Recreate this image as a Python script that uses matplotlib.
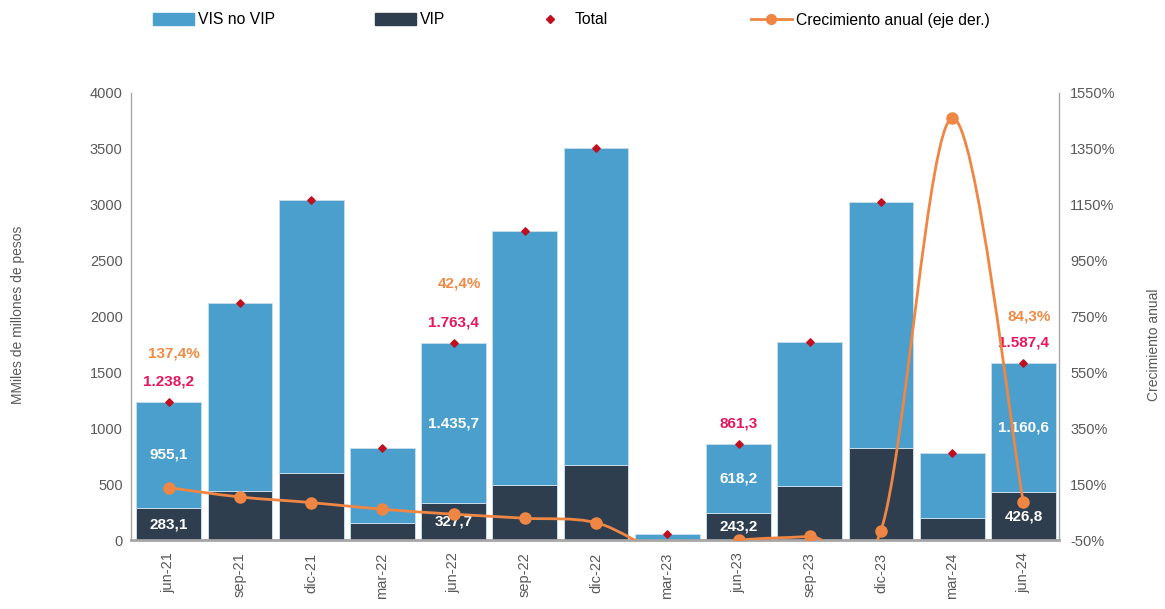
import matplotlib
matplotlib.use('Agg')
import matplotlib.pyplot as plt
import numpy
from matplotlib.lines import Line2D
from matplotlib.patches import Patch, PathPatch
from matplotlib.path import Path

matplotlib.rcParams.update({
    'font.family': ['Liberation Sans', 'DejaVu Sans'],
    'font.size': 10.5,
    'axes.linewidth': 1.0,
})

periods = ['jun-21', 'sep-21', 'dic-21', 'mar-22', 'jun-22', 'sep-22', 'dic-22',
           'mar-23', 'jun-23', 'sep-23', 'dic-23', 'mar-24', 'jun-24']
vip = [283.1, 438, 600, 152, 327.7, 492, 671, 0, 243.2, 483, 823, 197, 426.8]
vis_no_vip = [955.1, 1683, 2443, 671, 1435.7, 2273, 2837, 50, 618.2, 1289, 2202, 581, 1160.6]
total = [1238.2, 2121, 3043, 823, 1763.4, 2765, 3508, 50, 861.3, 1772, 3025, 778, 1587.4]
growth = [137.4, 104, 84, 60, 42.4, 28, 12, -94, -51.2, -37, -16, 1460, 84.3]

# only the june points carry data labels
labelled = [0, 4, 8, 12]

C_VIS = '#4b9fcc'
C_VIP = '#2e3e4f'
C_TOTAL = '#c00f1f'
C_LINE = '#ef8643'
C_TOTAL_TXT = '#e6175c'
C_GROWTH_TXT = '#f08a45'
C_AXIS = '#a6a6a6'
C_TICK = '#595959'


def fmt_es(v, pct=False):
    s = f'{v:,.1f}'.replace(',', 'X').replace('.', ',').replace('X', '.')
    return s + '%' if pct else s


def smooth_path(x, y):
    """Excel-like smoothed line as cubic Bezier segments through the points."""
    px = [x[0]] + list(x) + [x[-1]]
    py = [y[0]] + list(y) + [y[-1]]
    verts = [(x[0], y[0])]
    codes = [Path.MOVETO]
    for i in range(1, len(px) - 2):
        c1 = (px[i] + (px[i + 1] - px[i - 1]) / 6, py[i] + (py[i + 1] - py[i - 1]) / 6)
        c2 = (px[i + 1] - (px[i + 2] - px[i]) / 6, py[i + 1] - (py[i + 2] - py[i]) / 6)
        verts += [c1, c2, (px[i + 1], py[i + 1])]
        codes += [Path.CURVE4] * 3
    return Path(verts, codes)


W, H = 1165, 609
fig = plt.figure(figsize=(W / 100, H / 100), dpi=100)
ax = fig.add_axes([131 / W, 1 - 540 / H, (1059 - 131) / W, (540 - 93) / H])
ax2 = ax.twinx()

x = numpy.arange(len(periods))
ax.bar(x, vip, width=0.91, color=C_VIP, edgecolor='#c5dcec', linewidth=0.7, zorder=2)
ax.bar(x, vis_no_vip, bottom=vip, width=0.91, color=C_VIS, edgecolor='#c5dcec',
       linewidth=0.7, zorder=2)
ax.scatter(x, total, marker='D', s=14, color=C_TOTAL, zorder=4)

ax.set_xlim(-0.53, 12.5)
ax.set_ylim(0, 4000)
ax.set_yticks(range(0, 4001, 500))
ax.set_xticks(x)
ax.set_xticklabels(periods, rotation=90)
ax.tick_params(axis='both', length=0, colors=C_TICK, labelsize=10.5)
ax.tick_params(axis='x', pad=9)
ax.tick_params(axis='y', pad=6)
for side in ('top', 'right'):
    ax.spines[side].set_visible(False)
ax.spines['left'].set_color(C_AXIS)
ax.spines['bottom'].set_color(C_AXIS)
ax.spines['bottom'].set_linewidth(2)

# growth line on the right axis
ax2.set_ylim(-50, 1550)
ax2.set_yticks(range(-50, 1551, 200))
ax2.set_yticklabels([f'{t}%' for t in range(-50, 1551, 200)])
ax2.tick_params(axis='y', length=0, colors=C_TICK, labelsize=10.5, pad=8)
for side in ('top', 'left', 'bottom'):
    ax2.spines[side].set_visible(False)
ax2.spines['right'].set_color(C_AXIS)
ax2.add_patch(PathPatch(smooth_path(x, growth), facecolor='none', edgecolor=C_LINE,
                        linewidth=2, zorder=3))
ax2.plot(x, growth, linestyle='None', marker='o', markersize=8, color=C_LINE, zorder=4)

# axis titles
fig.text(18 / W, 1 - 315 / H, 'MMiles de millones de pesos', rotation=90,
         ha='center', va='center', color=C_TICK, fontsize=10)
fig.text(1154 / W, 1 - 345 / H, 'Crecimiento anual', rotation=90,
         ha='center', va='center', color=C_TICK, fontsize=10)

# data labels
growth_offset = {0: 35, 4: 43, 12: 33}
for i in labelled:
    ax.text(x[i], vip[i] / 2, fmt_es(vip[i]), ha='center', va='center',
            color='white', fontsize=11, fontweight='bold', zorder=5)
    ax.text(x[i], vip[i] + vis_no_vip[i] / 2, fmt_es(vis_no_vip[i]), ha='center',
            va='center', color='white', fontsize=11, fontweight='bold', zorder=5)
    ax.annotate(fmt_es(total[i]), (x[i], total[i]), xytext=(0, 14.5),
                textcoords='offset points', ha='center', va='center',
                color=C_TOTAL_TXT, fontsize=11, fontweight='bold', zorder=5)
    if i in growth_offset:
        ax.annotate(fmt_es(growth[i], pct=True), (x[i], total[i]),
                    xytext=(4, growth_offset[i]), textcoords='offset points',
                    ha='center', va='center', color=C_GROWTH_TXT, fontsize=11,
                    fontweight='bold', zorder=5)

# legend, one entry at a time to match the spacing
entries = [
    (Patch(color=C_VIS), 'VIS no VIP', 153),
    (Patch(color=C_VIP), 'VIP', 375),
    (Line2D([], [], linestyle='None', marker='D', markersize=4, color=C_TOTAL), 'Total', 530),
    (Line2D([], [], color=C_LINE, linewidth=2, marker='o', markersize=7), 'Crecimiento anual (eje der.)', 751),
]
for handle, label, xpos in entries:
    fig.legend([handle], [label], loc='center left', bbox_to_anchor=(xpos / W, 1 - 20 / H),
               frameon=False, fontsize=11.3, handlelength=2.6, handleheight=0.75,
               handletextpad=0.25, borderaxespad=0, borderpad=0)

fig.savefig('out.png', dpi=100)
plt.close()
